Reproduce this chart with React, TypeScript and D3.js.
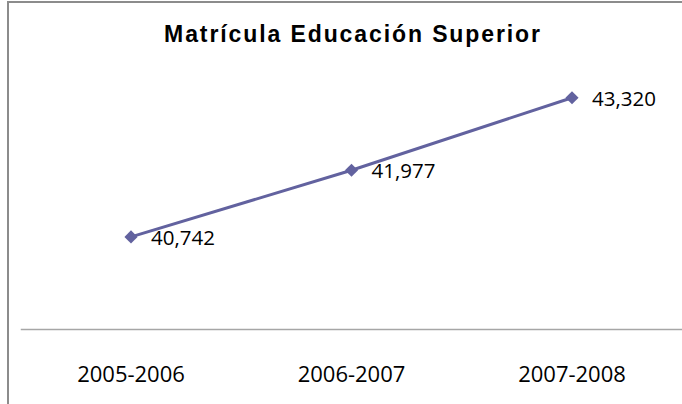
import React from "react";
import * as d3 from "d3";

const categories = ["2005-2006", "2006-2007", "2007-2008"];
const values = [40742, 41977, 43320];
const yDomain = [39000, 44000];
const title = "Matrícula Educación Superior";

const W = 682;
const H = 404;

export default function App() {
  const x = d3.scaleBand<string>().domain(categories).range([20.75, 682.25]).padding(0);
  const y = d3.scaleLinear().domain(yDomain).range([331, 61]);
  const cx = (c: string) => (x(c) as number) + x.bandwidth() / 2;
  const line = d3
    .line<number>()
    .x((_, i) => cx(categories[i]))
    .y((v) => y(v));
  const diamond = d3.symbol().type(d3.symbolDiamond2).size(110)();
  const axisY = Math.round(y(yDomain[0])) - 1.5;
  const fmt = d3.format(",");

  return (
    <svg
      width={W}
      height={H}
      style={{ position: "absolute", left: 0, top: 0, background: "#fff" }}
    >
      <rect x={8} y={2} width={700} height={430} fill="#fff" stroke="#8c8c8c" strokeWidth={2} />
      <text
        x={353}
        y={42}
        textAnchor="middle"
        fontFamily="'Liberation Sans', Arial, sans-serif"
        fontWeight="bold"
        fontSize={23}
        letterSpacing={1.9}
        fill="#000"
      >
        {title}
      </text>
      <line x1={20.75} x2={682} y1={axisY} y2={axisY} stroke="#a6a6a6" strokeWidth={1.5} />
      <path d={line(values) as string} fill="none" stroke="#62629f" strokeWidth={3} />
      {values.map((v, i) => (
        <path
          key={"m" + i}
          d={diamond as string}
          transform={`translate(${cx(categories[i])},${y(v)})`}
          fill="#62629f"
        />
      ))}
      {values.map((v, i) => (
        <text
          key={"l" + i}
          x={cx(categories[i]) + 20}
          y={y(v) + 8}
          fontFamily="'Open Sans', sans-serif"
          fontSize={20.5}
          fill="#000"
        >
          {fmt(v)}
        </text>
      ))}
      {categories.map((c) => (
        <text
          key={c}
          x={cx(c)}
          y={382}
          textAnchor="middle"
          fontFamily="'Open Sans', sans-serif"
          fontSize={22}
          fill="#000"
        >
          {c}
        </text>
      ))}
    </svg>
  );
}
